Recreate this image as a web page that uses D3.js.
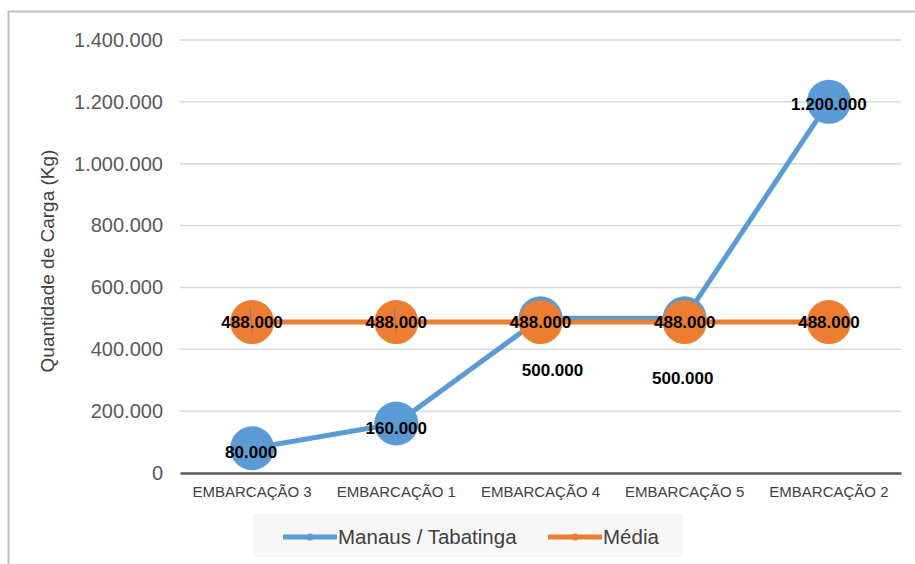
<!DOCTYPE html>
<html>
<head>
<meta charset="utf-8">
<script src="https://cdn.jsdelivr.net/npm/d3@7"></script>
<style>
  body { margin: 0; background: #fff; }
  svg text { font-family: "Liberation Sans", Arial, sans-serif; }
</style>
</head>
<body>
<div id="chart"></div>
<script>
const width = 915, height = 564;

// data
const categories = ["EMBARCAÇÃO 3", "EMBARCAÇÃO 1", "EMBARCAÇÃO 4", "EMBARCAÇÃO 5", "EMBARCAÇÃO 2"];
const manaus = [80000, 160000, 500000, 500000, 1200000];
const media = [488000, 488000, 488000, 488000, 488000];
const yTicks = [0, 200000, 400000, 600000, 800000, 1000000, 1200000, 1400000];
const seriesNames = ["Manaus / Tabatinga", "Média"];

const blue = "#5b9bd5", orange = "#ed7d31";
const margin = {top: 40, right: 14, bottom: 91, left: 180};

const svg = d3.select("#chart").append("svg")
    .attr("width", width)
    .attr("height", height);

// outer frame
svg.append("path")
    .attr("d", `M8.5,${height} V11.5 H${width}`)
    .attr("fill", "none")
    .attr("stroke", "#bfbfbf")
    .attr("stroke-width", 2);

const x = d3.scaleBand()
    .domain(categories)
    .range([margin.left, width - margin.right]);

const y = d3.scaleLinear()
    .domain([0, 1400000])
    .range([height - margin.bottom, margin.top]);

const fmt = d => d3.format(",")(d).replace(/,/g, ".");

// gridlines
svg.append("g")
    .selectAll("line")
    .data(yTicks.slice(1))
    .join("line")
    .attr("x1", margin.left)
    .attr("x2", width - margin.right)
    .attr("y1", d => y(d))
    .attr("y2", d => y(d))
    .attr("stroke", "#d9d9d9")
    .attr("stroke-width", 1.5);

// y axis labels
const yAxis = svg.append("g")
    .attr("transform", `translate(${margin.left},0)`)
    .call(d3.axisLeft(y).tickValues(yTicks).tickFormat(fmt).tickSize(0).tickPadding(17));
yAxis.select(".domain").remove();
yAxis.selectAll("text")
    .attr("font-size", 20)
    .attr("fill", "#595959")
    .style("font-family", "Liberation Sans, Arial, sans-serif");

// x axis
const xAxis = svg.append("g")
    .attr("transform", `translate(0,${y(0)})`)
    .call(d3.axisBottom(x).tickSize(0).tickPadding(13));
xAxis.select(".domain")
    .attr("stroke", "#595959")
    .attr("stroke-width", 2.5);
xAxis.selectAll("text")
    .attr("font-size", 15)
    .attr("fill", "#404040")
    .style("font-family", "Liberation Sans, Arial, sans-serif");

// y title
svg.append("text")
    .attr("transform", `translate(54,261) rotate(-90)`)
    .attr("text-anchor", "middle")
    .attr("font-size", 19)
    .attr("fill", "#404040")
    .text("Quantidade  de Carga (Kg)");

const cx = d => x(d) + x.bandwidth() / 2;
const line = d3.line()
    .x((d, i) => cx(categories[i]))
    .y(d => y(d));

// Manaus series
svg.append("path")
    .datum(manaus)
    .attr("d", line)
    .attr("fill", "none")
    .attr("stroke", blue)
    .attr("stroke-width", 5);
svg.append("g").selectAll("circle")
    .data(manaus)
    .join("circle")
    .attr("cx", (d, i) => cx(categories[i]))
    .attr("cy", d => y(d))
    .attr("r", 22)
    .attr("fill", blue);

// Média series
svg.append("path")
    .datum(media)
    .attr("d", line)
    .attr("fill", "none")
    .attr("stroke", orange)
    .attr("stroke-width", 5);
svg.append("g").selectAll("circle")
    .data(media)
    .join("circle")
    .attr("cx", (d, i) => cx(categories[i]))
    .attr("cy", d => y(d))
    .attr("r", 22)
    .attr("fill", orange);

// label offsets from the marker centre (dx, dy)
const labelOffsets = [[-1, 4], [0, 4], [12, 52], [-2, 60], [0, 2]];
svg.append("g").selectAll("line")
    .data(manaus)
    .join("line")
    .filter((d, i) => labelOffsets[i][1] > 20)
    .attr("x1", (d, i) => cx(categories[i]) + (i === 2 ? 8 : 0))
    .attr("y1", (d, i) => y(d) + (i === 2 ? 25 : 14))
    .attr("x2", (d, i) => cx(categories[i]) + (i === 2 ? 12 : -2))
    .attr("y2", (d, i) => y(d) + labelOffsets[i][1] - 14)
    .attr("stroke", "#7f7f7f")
    .attr("stroke-width", 1);

// labels
const labelStyle = sel => sel
    .attr("text-anchor", "middle")
    .attr("font-size", 17)
    .attr("font-weight", "bold")
    .attr("fill", "#000");

svg.append("g").selectAll("text")
    .data(manaus)
    .join("text")
    .attr("x", (d, i) => cx(categories[i]) + labelOffsets[i][0])
    .attr("y", (d, i) => y(d) + labelOffsets[i][1] + 6)
    .call(labelStyle)
    .text(fmt);

svg.append("g").selectAll("text")
    .data(media)
    .join("text")
    .attr("x", (d, i) => cx(categories[i]))
    .attr("y", d => y(d) + 6)
    .call(labelStyle)
    .text(fmt);

// legend
const legend = svg.append("g");
legend.append("rect")
    .attr("x", 253).attr("y", 514)
    .attr("width", 430).attr("height", 43)
    .attr("fill", "#f7f7f7");
const items = legend.selectAll("g")
    .data(seriesNames)
    .join("g")
    .attr("transform", (d, i) => `translate(${i === 0 ? 283 : 548},537)`);
items.append("line")
    .attr("x1", 0).attr("x2", 54)
    .attr("stroke", (d, i) => i === 0 ? blue : orange)
    .attr("stroke-width", 5);
items.append("circle")
    .attr("cx", 27).attr("r", 3.5)
    .attr("fill", (d, i) => i === 0 ? blue : orange);
items.append("text")
    .attr("x", 55)
    .attr("y", 7)
    .attr("font-size", 20.5)
    .attr("fill", "#404040")
    .text(d => d);
</script>
</body>
</html>
